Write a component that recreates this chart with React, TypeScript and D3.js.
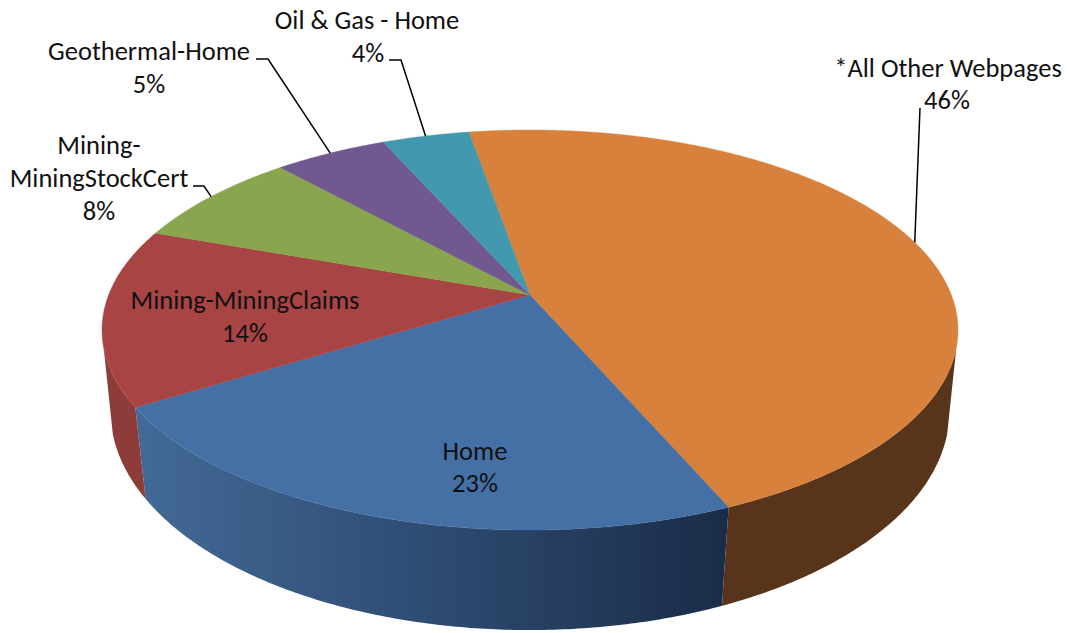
import React from "react";
import * as d3 from "d3";

const categories = ["*All Other Webpages", "Home", "Mining-MiningClaims", "Mining-MiningStockCert", "Geothermal-Home", "Oil & Gas - Home"];
const shares = [46.25, 22.65, 14.3, 7.85, 5.05, 3.9];
const topColors = ["#d7813c", "#4470a6", "#a84444", "#89a54e", "#71588f", "#4198af"];

// Label layout: each row is drawn as a line of text (x centre, baseline y)
const labelLines: [string, number, number][][] = [
  [["*All Other Webpages", 948, 77], ["46%", 947, 109]],
  [["Home", 475, 460], ["23%", 475, 492]],
  [["Mining-MiningClaims", 245, 309], ["14%", 245, 342]],
  [["Mining-", 99, 154], ["MiningStockCert", 99, 187], ["8%", 99, 220]],
  [["Geothermal-Home", 149, 60], ["5%", 149, 93]],
  [["Oil & Gas - Home", 367, 29], ["4%", 368, 62]],
];
// Leader elbows, ending on the rim at the middle of the slice
const leaderStarts: Record<number, [number, number][]> = {
  0: [[920, 108]],
  3: [[193, 186], [204, 186]],
  4: [[256, 59], [268, 59]],
  5: [[389, 60], [401, 60]],
};

const CX = 530;
const TOP = { cy: 295, a: 421.4, b: 193.9, k: 0.175 };
const BOTTOM = { cy: 376.5, a: 414, b: 213, k: 0.16 };
const START = (-9.8 * Math.PI) / 180;
const RIGHT_TANGENT = (105 * Math.PI) / 180;
const LEFT_TANGENT = (255 * Math.PI) / 180;

const project = (ring: typeof TOP, angle: number): [number, number] => {
  const u = Math.sin(angle);
  const v = -Math.cos(angle);
  const d = 1 - ring.k * v;
  return [CX + (ring.a * u) / d, ring.cy + (ring.b * v) / d];
};

const arcs = d3
  .pie<number>()
  .sort(null)
  .startAngle(START)
  .endAngle(START + 2 * Math.PI)(shares);

const samples = (a0: number, a1: number) => {
  const n = Math.max(2, Math.ceil(Math.abs(a1 - a0) / 0.01));
  return d3.range(n + 1).map((i) => a0 + ((a1 - a0) * i) / n);
};
const line = d3.line<[number, number]>();

const topPath = (a0: number, a1: number) =>
  line([[CX, TOP.cy], ...samples(a0, a1).map((t) => project(TOP, t))]) + "Z";

const sidePath = (a0: number, a1: number) =>
  line([
    ...samples(a0, a1).map((t) => project(TOP, t)),
    ...samples(a1, a0).map((t) => project(BOTTOM, t)),
  ]) + "Z";

const fontFamily = "Carlito, Lato, sans-serif";

export default function App() {
  const orange = arcs[0];
  const blue = arcs[1];
  const red = arcs[2];
  const blueX0 = project(TOP, blue.endAngle)[0];
  const blueX1 = project(TOP, blue.startAngle)[0];
  return (
    <svg width={1067} height={633} style={{ position: "absolute", left: 0, top: 0, background: "#fff" }}>
      <defs>
        <linearGradient id="blueSide" gradientUnits="userSpaceOnUse" x1={blueX0} x2={blueX1} y1={0} y2={0}>
          <stop offset="0" stopColor="#436a97" />
          <stop offset="0.5" stopColor="#2e4b72" />
          <stop offset="1" stopColor="#1a2c47" />
        </linearGradient>
      </defs>
      {/* side walls */}
      <path d={sidePath(RIGHT_TANGENT, orange.endAngle)} fill="#57341a" />
      <path d={sidePath(blue.startAngle, blue.endAngle)} fill="url(#blueSide)" />
      <path d={sidePath(red.startAngle, LEFT_TANGENT)} fill="#8e3c39" />
      {/* top face */}
      {arcs.map((d, i) => (
        <path key={i} d={topPath(d.startAngle, d.endAngle)} fill={topColors[i]} stroke={topColors[i]} strokeWidth={0.4} />
      ))}
      {/* leaders */}
      {arcs.map((d, i) =>
        leaderStarts[i] ? (
          <path
            key={i}
            d={line([...leaderStarts[i], project(TOP, (d.startAngle + d.endAngle) / 2)]) as string}
            fill="none"
            stroke="#000"
            strokeWidth={1.5}
          />
        ) : null
      )}
      {/* labels */}
      {labelLines.map((rows, i) =>
        rows.map(([t, x, y], j) => (
          <text key={`${i}-${j}`} x={x} y={y} textAnchor="middle" fontFamily={fontFamily} fontSize={26.5} fill="#111">
            {t}
          </text>
        ))
      )}
    </svg>
  );
}
